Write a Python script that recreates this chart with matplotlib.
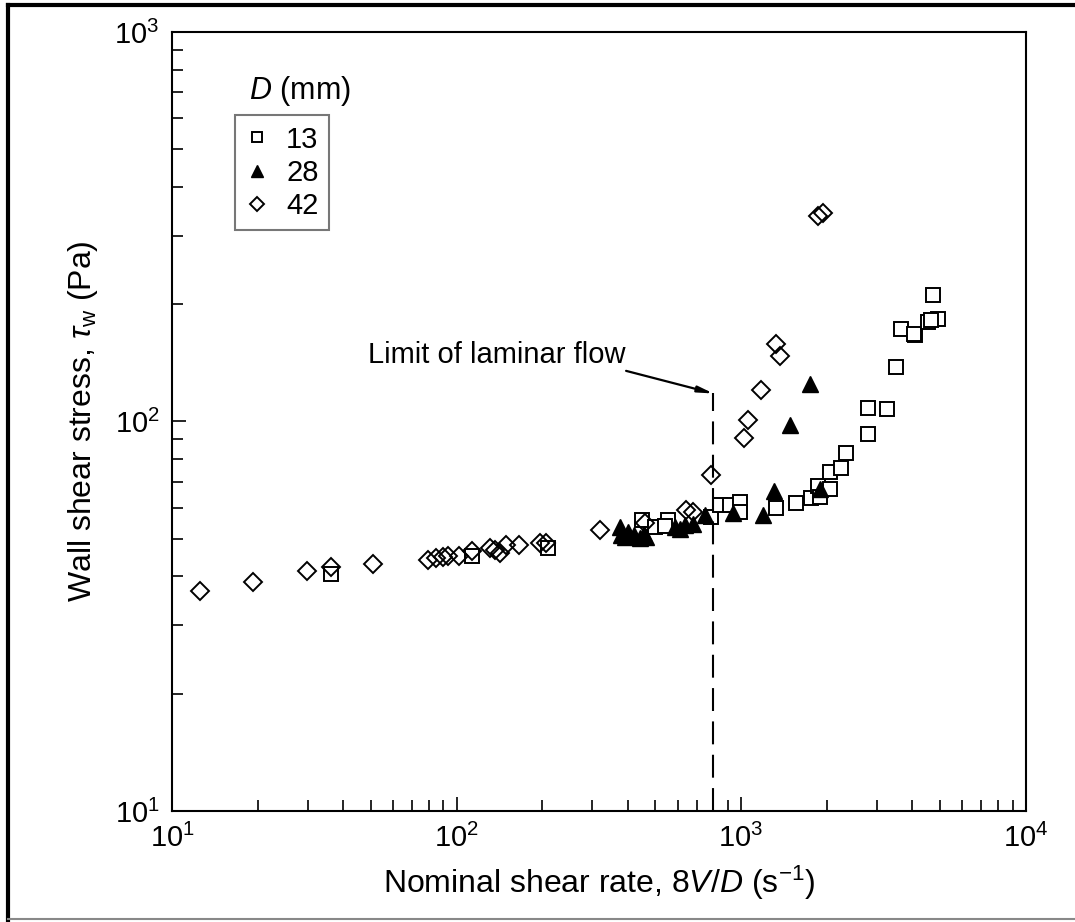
import numpy as np
import matplotlib
matplotlib.use("Agg")
import matplotlib.pyplot as plt
from matplotlib.lines import Line2D

plt.rcParams['font.family'] = ['Liberation Sans', 'DejaVu Sans']
plt.rcParams['mathtext.fontset'] = 'custom'
plt.rcParams['mathtext.rm'] = 'Liberation Sans'
plt.rcParams['mathtext.it'] = 'Liberation Sans:italic'

# D = 13 mm (open squares)
x13 = [36.1, 113, 210, 450, 498, 554, 539, 787, 841, 912, 989, 989, 1330, 1563, 1766,
       1864, 1889, 2049, 2049, 2251, 2342, 2805, 3250, 2805, 3514, 3656, 4074, 4040,
       4539, 4922, 4660, 4721]
y13 = [40.5, 45.2, 47.2, 56.0, 53.5, 55.8, 53.9, 56.9, 61.1, 61.1, 62.0, 58.6, 60.0, 61.6, 63.5,
       68.3, 64.1, 67.0, 74.3, 75.8, 83.0, 108, 107.5, 92.7, 138, 173, 167, 168,
       180, 183, 182, 211]

# D = 28 mm (filled triangles)
x28 = [375, 380, 390, 400, 420, 440, 455, 465, 585, 610, 634, 678, 745, 937, 1194, 1303,
       1483, 1750, 1889]
y28 = [53.7, 51.2, 50.5, 52.0, 51.0, 50.2, 51.5, 50.5, 53.5, 53.0, 54.2, 54.6, 57.5, 58.1, 57.5, 66.4,
       98, 125, 67.0]

# D = 42 mm (open diamonds)
x42 = [12.5, 19.2, 29.7, 36.1, 50.9, 79.5, 85, 89.4, 93, 102, 113, 131, 136, 142, 149, 166,
       196, 207, 320, 458, 643, 678, 787, 1023, 1058, 1178, 1330, 1374, 1863, 1940]
y42 = [36.8, 38.8, 41.3, 42.4, 43.0, 44.0, 44.6, 44.8, 45.2, 45.2, 46.4, 47.4, 46.9, 45.9, 48.2, 48.2,
       48.9, 48.7, 52.7, 54.9, 59.3, 58.6, 72.9, 90.6, 101, 120.5, 158, 147, 336, 342]

labels = ['13', '28', '42']
laminar_limit = 800
laminar_top = 118

fig = plt.figure(figsize=(10.75, 9.22), dpi=100)
ax = fig.add_axes([0.160, 0.1204, 0.794, 0.8449])

ax.plot(x13, y13, 's', ms=9.5, mfc='white', mec='black', mew=1.4, ls='none', label=labels[0])
ax.plot(x28, y28, '^', ms=11, mfc='black', mec='black', mew=1.0, ls='none', label=labels[1])
ax.plot(x42, y42, 'D', ms=9, mfc='none', mec='black', mew=1.4, ls='none', label=labels[2])

# limit of laminar flow
ax.plot([laminar_limit, laminar_limit], [10, laminar_top], color='black', lw=1.5,
        ls=(0, (11, 5)))
ax.text(0.380, 0.585, 'Limit of laminar flow', transform=ax.transAxes,
        ha='center', va='center', fontsize=21)
ax.annotate('', xy=(laminar_limit, laminar_top), xytext=(0.532, 0.565),
            textcoords='axes fraction',
            arrowprops=dict(arrowstyle='-|>,head_length=0.9,head_width=0.18', lw=1.6,
                            color='black', shrinkA=0, shrinkB=0))

ax.set_xscale('log')
ax.set_yscale('log')
ax.set_xlim(10, 1e4)
ax.set_ylim(10, 1e3)

ax.tick_params(which='both', direction='in', top=False, right=False, labelsize=21)
ax.tick_params(which='major', length=10, width=1.2, pad=9)
ax.tick_params(which='minor', length=8, width=1.2)
for s in ax.spines.values():
    s.set_linewidth(1.5)

ax.set_xlabel(r'Nominal shear rate, 8$V$/$D$ (s$^{-1}$)', fontsize=23, labelpad=8)
ax.set_ylabel(r'Wall shear stress, $\tau_{\mathrm{w}}$ (Pa)', fontsize=23, labelpad=10)

leg = ax.legend(loc='upper left', bbox_to_anchor=(0.0738, 0.893), borderaxespad=0,
                fontsize=21, frameon=True, fancybox=False, markerscale=0.75,
                handlelength=0.8, handletextpad=0.6, labelspacing=0.18, borderpad=0.35)
leg.get_frame().set_edgecolor('#555555')
leg.get_frame().set_linewidth(1.5)
# legend title sits above the box
ax.text(0.150, 0.924, r'$D$ (mm)', transform=ax.transAxes, ha='center', va='center',
        fontsize=22)

# outer frame of the picture
W, H = 1075, 922
fig.add_artist(Line2D([8 / W, 1], [1 - 5 / H, 1 - 5 / H], color='black', lw=3))
fig.add_artist(Line2D([8 / W, 8 / W], [0, 1 - 5 / H], color='black', lw=3))
fig.add_artist(Line2D([8 / W, 1], [3 / H, 3 / H], color='#888888', lw=1.5))

fig.savefig('out.png', dpi=100)
